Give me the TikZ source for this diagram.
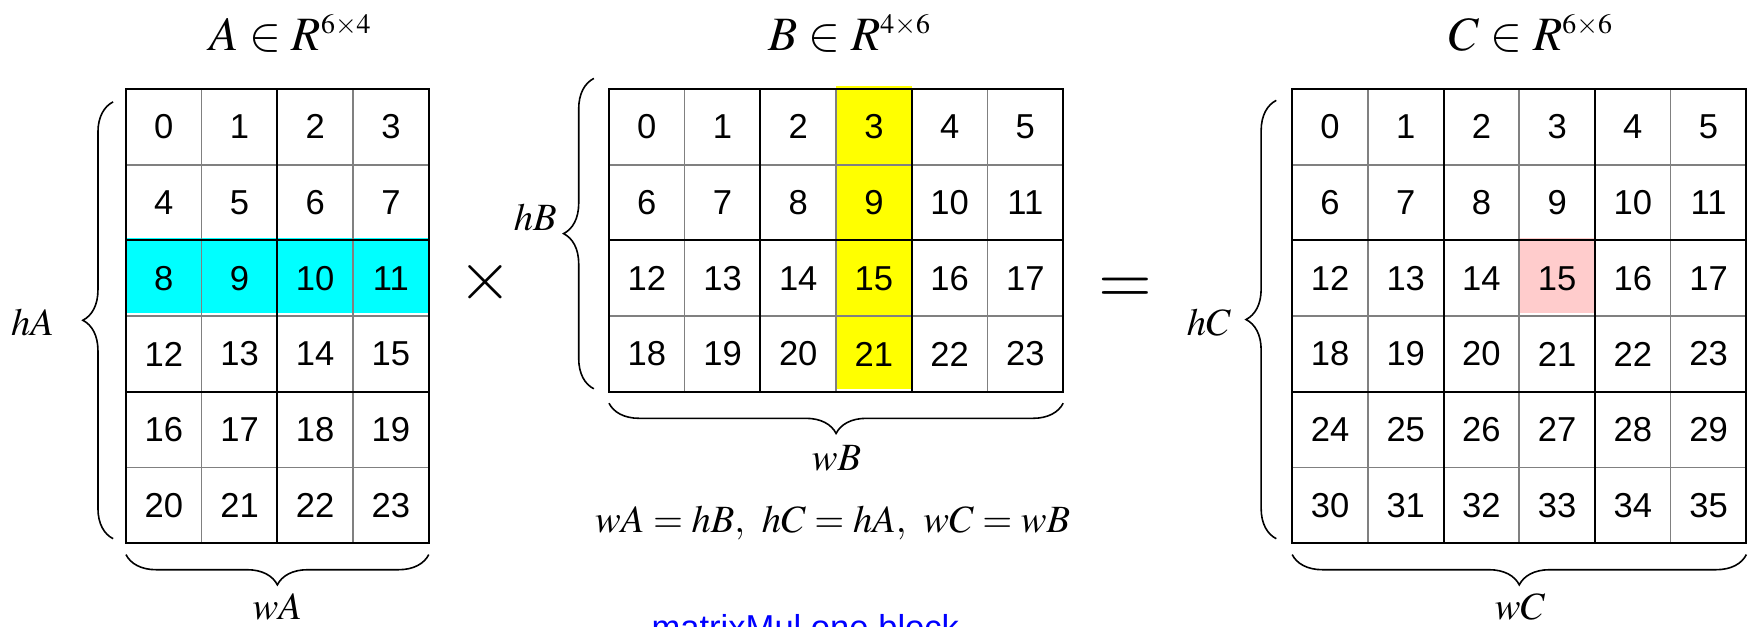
\documentclass[tikz,border=0pt]{standalone}
\usepackage{mathptmx}
\usepackage{fontspec}
\newfontfamily\arialfont{Liberation Sans}
\usetikzlibrary{decorations.pathreplacing,backgrounds}
\definecolor{cellcyan}{RGB}{0,255,255}
\definecolor{cellyellow}{RGB}{255,255,0}
\definecolor{cellpink}{RGB}{255,204,204}
\definecolor{srcblue}{RGB}{0,0,255}
\newcommand{\dimsup}[2]{^{\mbox{\fontsize{10.5}{11}\selectfont$#1{\times}#2$}}}

\begin{document}
\begin{tikzpicture}[
    cell/.style={draw=gray, line width=0.6pt, minimum width=1cm, minimum height=1cm,
                 inner sep=0pt, outer sep=0pt, font=\arialfont\fontsize{13}{15}\selectfont},
    blk/.style={draw=black, line width=0.8pt},
    brc/.style={decorate, decoration={brace, amplitude=0.4cm}, line width=0.6pt},
    lbl/.style={font=\fontsize{14.5}{16}\selectfont, inner sep=0pt, anchor=base},
    ttl/.style={font=\fontsize{18}{20}\selectfont, inner sep=0pt, anchor=base},
    op/.style={font=\fontsize{26}{28}\selectfont, inner sep=0pt}
]
    \useasboundingbox (0,0) rectangle (23.105,8.27);

    % cells
    \foreach \r in {1,...,6}
      \foreach \c in {1,...,4} {
        \pgfmathtruncatemacro{\n}{(\r-1)*4+\c-1}
        \node[cell] (A-\r-\c) at (1.164+\c, 7.594-\r) {\n};
      }
    \foreach \r in {1,...,4}
      \foreach \c in {1,...,6} {
        \pgfmathtruncatemacro{\n}{(\r-1)*6+\c-1}
        \node[cell] (B-\r-\c) at (7.545+\c, 7.594-\r) {\n};
      }
    \foreach \r in {1,...,6}
      \foreach \c in {1,...,6} {
        \pgfmathtruncatemacro{\n}{(\r-1)*6+\c-1}
        \node[cell] (C-\r-\c) at (16.57+\c, 7.594-\r) {\n};
      }

    \begin{scope}[on background layer]
      \fill[cellcyan] ([yshift=1pt]A-3-1.north west) rectangle ([yshift=1pt]A-3-4.south east);
      \fill[cellyellow] ([yshift=1pt]B-1-4.north west) rectangle ([yshift=1pt]B-4-4.south east);
      \fill[cellpink] ([yshift=1pt]C-3-4.north west) rectangle ([yshift=1pt]C-3-4.south east);
    \end{scope}

    % 2x2 blocks
    \foreach \r in {1,3,5}
      \foreach \c in {1,3} {
        \pgfmathtruncatemacro{\rr}{\r+1}\pgfmathtruncatemacro{\cc}{\c+1}
        \draw[blk] (A-\r-\c.north west) rectangle (A-\rr-\cc.south east);
      }
    \foreach \r in {1,3}
      \foreach \c in {1,3,5} {
        \pgfmathtruncatemacro{\rr}{\r+1}\pgfmathtruncatemacro{\cc}{\c+1}
        \draw[blk] (B-\r-\c.north west) rectangle (B-\rr-\cc.south east);
      }
    \foreach \r in {1,3,5}
      \foreach \c in {1,3,5} {
        \pgfmathtruncatemacro{\rr}{\r+1}\pgfmathtruncatemacro{\cc}{\c+1}
        \draw[blk] (C-\r-\c.north west) rectangle (C-\rr-\cc.south east);
      }

    \node[ttl] (tA) at (3.84,7.6) {$A\in R\dimsup{6}{4}$};
    \node[ttl] (tB) at (11.23,7.6) {$B\in R\dimsup{4}{6}$};
    \node[ttl] (tC) at (20.23,7.6) {$C\in R\dimsup{6}{6}$};

    \draw[brc] ([xshift=-0.17cm,yshift=0.06cm]A-6-1.south west) -- ([xshift=-0.17cm,yshift=-0.17cm]A-1-1.north west);
    \draw[brc] ([xshift=-0.2cm,yshift=0.04cm]B-4-1.south west) -- ([xshift=-0.2cm,yshift=0.14cm]B-1-1.north west);
    \draw[brc] ([xshift=-0.21cm,yshift=0.06cm]C-6-1.south west) -- ([xshift=-0.21cm,yshift=-0.15cm]C-1-1.north west);

    \draw[brc] ([yshift=-0.15cm]A-6-4.south east) -- ([yshift=-0.15cm]A-6-1.south west);
    \draw[brc] ([yshift=-0.15cm]B-4-6.south east) -- ([yshift=-0.15cm]B-4-1.south west);
    \draw[brc] ([yshift=-0.15cm]C-6-6.south east) -- ([yshift=-0.15cm]C-6-1.south west);

    \node[lbl] (hA) at (0.43,3.84) {$hA$};
    \node[lbl] (hB) at (7.07,5.23) {$hB$};
    \node[lbl] (hC) at (15.97,3.84) {$hC$};
    \node[lbl] (wA) at (3.664,0.08) {$wA$};
    \node[lbl] (wB) at (11.05,2.06) {$wB$};
    \node[lbl] (wC) at (20.08,0.08) {$wC$};
    \node[lbl] (rule) at (11.0,1.24) {$wA=hB,\ hC=hA,\ wC=wB$};

    \node[op] (times) at (6.41,4.54) {$\times$};
    \node[op] (equals) at (14.86,4.43) {$=$};

    \node[font=\arialfont\fontsize{13}{15}\selectfont, text=srcblue, anchor=base west, inner sep=0pt]
        (src) at (8.60,-0.18) {matrixMul one block};
\end{tikzpicture}
\end{document}
